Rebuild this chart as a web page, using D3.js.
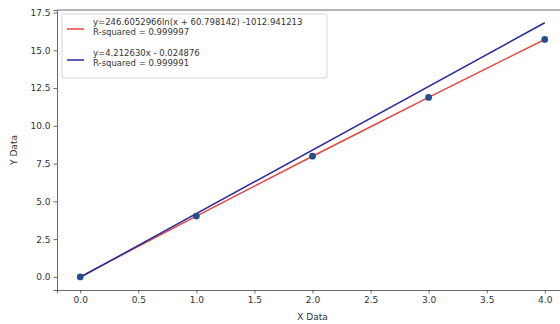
<!DOCTYPE html>
<html>
<head>
<meta charset="utf-8">
<script src="https://cdn.jsdelivr.net/npm/d3@7"></script>
<style>
  body { margin: 0; background: #fff; }
  text { font-family: "DejaVu Sans", sans-serif; fill: #333; }
</style>
</head>
<body>
<div id="chart"></div>
<script>
// measured points
var xData = [0, 1, 2, 3, 4];
var yData = [0, 4.03, 7.99, 11.88, 15.72];

// log fit
var logX = [0, 0.5, 1, 1.5, 2, 2.5, 3, 3.5, 4];
var logY = [0.005, 2.025, 4.028, 6.015, 7.987, 9.943, 11.883, 13.808, 15.718];

// linear fit, end points of the blue line
var linX = [0, 4];
var linY = [-0.025, 16.826];

var xTicks = [0, 0.5, 1, 1.5, 2, 2.5, 3, 3.5, 4];
var yTicks = [0, 2.5, 5, 7.5, 10, 12.5, 15, 17.5];

var legendLabels = [
  ["y=246.6052966ln(x + 60.798142) -1012.941213", "R-squared = 0.999997"],
  ["y=4.212630x - 0.024876", "R-squared = 0.999991"]
];

var width = 560, height = 324;
var margin = { top: 10, right: -8, bottom: 34, left: 57 };
var w = width - margin.left - margin.right;
var h = height - margin.top - margin.bottom;

var svg = d3.select('#chart').append('svg')
  .attr('width', width)
  .attr('height', height);

var g = svg.append('g')
  .attr('transform', 'translate(' + margin.left + ',' + margin.top + ')');

var x = d3.scaleLinear().domain([-0.2, 4.2]).range([0, w]);
var y = d3.scaleLinear().domain([-0.867, 17.67]).range([h, 0]);

// axes
var xAxis = g.append('g')
  .attr('transform', 'translate(0,' + h + ')')
  .call(d3.axisBottom(x).tickValues(xTicks).tickFormat(d3.format('.1f')).tickSize(3.5).tickPadding(3));
var yAxis = g.append('g')
  .call(d3.axisLeft(y).tickValues(yTicks).tickFormat(d3.format('.1f')).tickSize(3.5).tickPadding(3));

[xAxis, yAxis].forEach(function (a) {
  a.selectAll('text').style('font-size', '9px').style('font-family', 'DejaVu Sans');
  a.selectAll('line').attr('stroke', '#444').attr('stroke-width', 0.8);
  a.select('.domain').attr('stroke', '#444').attr('stroke-width', 0.8);
});

// top spine
g.append('line')
  .attr('x1', 0).attr('x2', w).attr('y1', 0).attr('y2', 0)
  .attr('stroke', '#444').attr('stroke-width', 0.8);

// fit lines
var line = d3.line()
  .x(function (d) { return x(d[0]); })
  .y(function (d) { return y(d[1]); });

g.append('path')
  .datum(d3.zip(logX, logY))
  .attr('d', line)
  .attr('fill', 'none')
  .attr('stroke', '#e8453c')
  .attr('stroke-width', 1.5);

g.append('path')
  .datum(d3.zip(linX, linY))
  .attr('d', line)
  .attr('fill', 'none')
  .attr('stroke', '#2b2ba0')
  .attr('stroke-width', 1.5);

// data points
g.selectAll('path.pt')
  .data(d3.zip(xData, yData))
  .enter()
  .append('path')
  .attr('class', 'pt')
  .attr('d', d3.symbol().type(d3.symbolCircle).size(36))
  .attr('transform', function (d) { return 'translate(' + x(d[0]) + ',' + y(d[1]) + ')'; })
  .attr('fill', '#24508a');

// legend
var leg = g.append('g').attr('transform', 'translate(5,4)');
leg.append('rect')
  .attr('width', 265).attr('height', 64)
  .attr('rx', 2)
  .attr('fill', '#fff').attr('fill-opacity', 0.85)
  .attr('stroke', '#ccc').attr('stroke-width', 0.8);

var legColors = ['#e8453c', '#2b2ba0'];
legendLabels.forEach(function (lbl, i) {
  var yy = 8 + i * 31;
  leg.append('line')
    .attr('x1', 5).attr('x2', 22)
    .attr('y1', yy + 7).attr('y2', yy + 7)
    .attr('stroke', legColors[i]).attr('stroke-width', 1.5);
  lbl.forEach(function (t, k) {
    leg.append('text')
      .attr('x', 31).attr('y', yy + 3 + k * 10)
      .style('font-size', '8.5px')
      .text(t);
  });
});

// axis labels
svg.append('text')
  .attr('x', margin.left + w / 2).attr('y', 320)
  .attr('text-anchor', 'middle')
  .style('font-size', '9px')
  .text('X Data');

svg.append('text')
  .attr('transform', 'translate(17,' + (margin.top + h / 2) + ') rotate(-90)')
  .attr('text-anchor', 'middle')
  .style('font-size', '9px')
  .text('Y Data');
</script>
</body>
</html>
